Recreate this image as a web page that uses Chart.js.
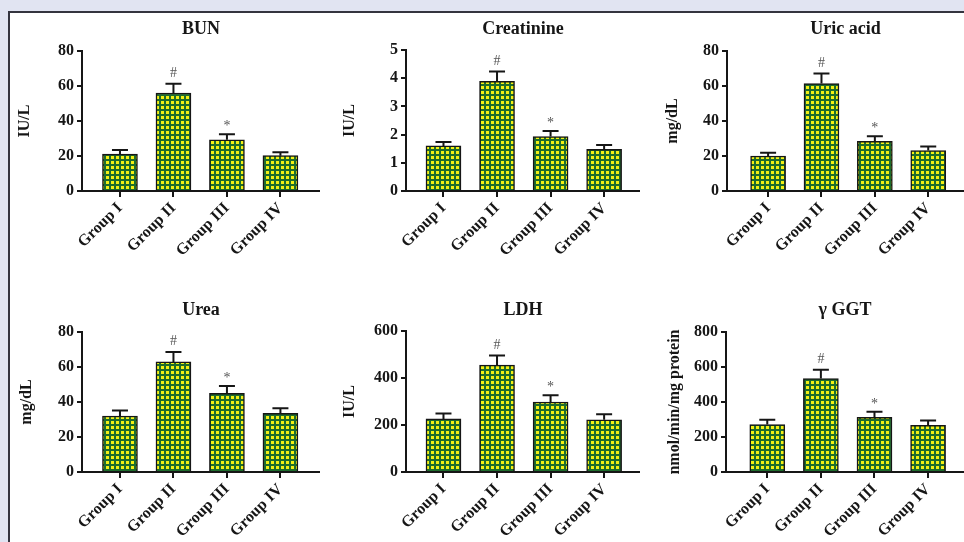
<!DOCTYPE html>
<html><head><meta charset="utf-8">
<script src="https://cdn.jsdelivr.net/npm/chart.js@4.4.0/dist/chart.umd.min.js"></script>
<style>
html,body{margin:0;padding:0;width:964px;height:542px;overflow:hidden;background:#e1e4f2;}
#panel{position:absolute;left:8px;top:11px;width:990px;height:560px;background:#fff;border:2px solid #34343f;box-sizing:border-box;}
canvas{position:absolute;}
</style></head><body>
<div id="panel"></div>
<canvas id="c0"></canvas><canvas id="c1"></canvas><canvas id="c2"></canvas>
<canvas id="c3"></canvas><canvas id="c4"></canvas><canvas id="c5"></canvas>
<script>
// ---- data ----
const categories = ['Group I', 'Group II', 'Group III', 'Group IV'];
const marks = ['', '#', '*', ''];

const bunMean = [21.1, 56.0, 29.3, 20.2];
const bunSE   = [2.3, 5.3, 3.1, 1.9];
const creatMean = [1.60, 3.89, 1.93, 1.48];
const creatSE   = [0.14, 0.35, 0.20, 0.15];
const uricMean = [20.0, 61.4, 28.4, 23.1];
const uricSE   = [1.9, 5.7, 2.9, 2.4];
const ureaMean = [32.0, 62.9, 45.0, 33.5];
const ureaSE   = [3.1, 5.7, 4.1, 2.9];
const ldhMean = [226, 455, 298, 222];
const ldhSE   = [23, 41, 29, 24];
const ggtMean = [271, 534, 313, 267];
const ggtSE   = [28, 51, 32, 28];

const ticks80 = [0, 20, 40, 60, 80];
const ticks5 = [0, 1, 2, 3, 4, 5];
const ticks600 = [0, 200, 400, 600];
const ticks800 = [0, 200, 400, 600, 800];

const titles = ['BUN', 'Creatinine', 'Uric acid', 'Urea', 'LDH', 'γ GGT'];
const units = ['IU/L', 'IU/L', 'mg/dL', 'mg/dL', 'IU/L', 'nmol/min/mg protein'];

// ---- layout ----
const SERIF = "'Liberation Serif','Times New Roman',serif";
const panels = [
  {id:'c0', title:titles[0], unit:units[0], mean:bunMean,   se:bunSE,   yTicks:ticks80,  left:0,   top:0,   w:320, h:280, axisX:82,  areaTop:51,  zeroY:191, xMin:-0.71, xMax:3.74, yTitleX:25, titleY:29},
  {id:'c1', title:titles[1], unit:units[1], mean:creatMean, se:creatSE, yTicks:ticks5,   left:320, top:0,   w:320, h:280, axisX:406, areaTop:50,  zeroY:191, xMin:-0.70, xMax:3.67, yTitleX:30, titleY:29},
  {id:'c2', title:titles[2], unit:units[2], mean:uricMean,  se:uricSE,  yTicks:ticks80,  left:640, top:0,   w:324, h:280, axisX:727, areaTop:51,  zeroY:191, xMin:-0.77, xMax:3.67, yTitleX:33, titleY:29},
  {id:'c3', title:titles[3], unit:units[3], mean:ureaMean,  se:ureaSE,  yTicks:ticks80,  left:0,   top:280, w:320, h:280, axisX:82,  areaTop:332, zeroY:472, xMin:-0.71, xMax:3.74, yTitleX:27, titleY:310},
  {id:'c4', title:titles[4], unit:units[4], mean:ldhMean,   se:ldhSE,   yTicks:ticks600, left:320, top:280, w:320, h:280, axisX:406, areaTop:331, zeroY:472, xMin:-0.70, xMax:3.67, yTitleX:30, titleY:310},
  {id:'c5', title:titles[5], unit:units[5], mean:ggtMean,   se:ggtSE,   yTicks:ticks800, left:640, top:280, w:324, h:280, axisX:726, areaTop:332, zeroY:472, xMin:-0.77, xMax:3.67, yTitleX:35, titleY:310}
];

// checkered fill
const pc = document.createElement('canvas');
pc.width = 5; pc.height = 5;
const pctx = pc.getContext('2d');
pctx.fillStyle = '#1f6d2c'; pctx.fillRect(0, 0, 5, 5);
pctx.fillStyle = '#f4f014'; pctx.fillRect(1, 1, 3, 3);

const INK = '#161616';
const X_H = 80;

function overlay(p) {
  return {
    id: 'overlay_' + p.id,
    afterDatasetsDraw(chart) {
      const {ctx, chartArea, scales} = chart;
      const x = scales.x, y = scales.y;
      ctx.save();
      p.mean.forEach((v, i) => {
        const px = x.getPixelForValue(i);
        const yb = y.getPixelForValue(v);
        const yt = y.getPixelForValue(v + p.se[i]);
        ctx.strokeStyle = INK; ctx.lineWidth = 2;
        ctx.beginPath();
        ctx.moveTo(px, yb); ctx.lineTo(px, yt);
        ctx.moveTo(px - 8, yt); ctx.lineTo(px + 8, yt);
        ctx.stroke();
        if (marks[i]) {
          ctx.fillStyle = '#555';
          ctx.font = '14px ' + SERIF;
          ctx.textAlign = 'center';
          ctx.textBaseline = 'alphabetic';
          ctx.fillText(marks[i], px, marks[i] === '*' ? yt - 4 : yt - 6.5);
        }
      });
      ctx.fillStyle = INK;
      ctx.font = 'bold 18px ' + SERIF;
      ctx.textAlign = 'center';
      ctx.textBaseline = 'middle';
      ctx.fillText(p.title, (chartArea.left + chartArea.right) / 2, p.titleY - p.top);
      ctx.restore();
    }
  };
}

function makeChart(p) {
  const cv = document.getElementById(p.id);
  cv.width = p.w; cv.height = p.h;
  cv.style.left = p.left + 'px'; cv.style.top = p.top + 'px';
  cv.style.width = p.w + 'px'; cv.style.height = p.h + 'px';
  const ctx = cv.getContext('2d');
  const pattern = ctx.createPattern(pc, 'repeat');
  const font = {family: SERIF, size: 16, weight: 'bold'};
  new Chart(ctx, {
    type: 'bar',
    data: {
      datasets: [{
        data: p.mean.map((v, i) => ({x: i, y: v})),
        backgroundColor: pattern,
        borderColor: INK,
        borderWidth: 1.5,
        barThickness: 35
      }]
    },
    options: {
      responsive: false,
      animation: false,
      devicePixelRatio: 1,
      layout: {padding: {left: 0, right: 0, top: p.areaTop - p.top, bottom: p.h - (p.zeroY - p.top) - X_H}},
      plugins: {legend: {display: false}, tooltip: {enabled: false}, title: {display: false}},
      scales: {
        x: {
          type: 'linear', min: p.xMin, max: p.xMax, offset: false,
          afterBuildTicks: a => { a.ticks = categories.map((c, i) => ({value: i})); },
          afterFit: a => { a.height = X_H; },
          ticks: {callback: v => categories[v], autoSkip: false, maxRotation: 45, minRotation: 45, font: font, color: INK, padding: 2},
          grid: {offset: false, drawOnChartArea: false, drawTicks: true, tickLength: 6, color: INK, lineWidth: 2},
          border: {display: true, color: INK, width: 2}
        },
        y: {
          min: 0, max: p.yTicks[p.yTicks.length - 1],
          afterBuildTicks: a => { a.ticks = p.yTicks.map(v => ({value: v})); },
          afterFit: a => { a.width = p.axisX - p.left; },
          ticks: {font: font, color: INK, padding: 3},
          grid: {drawOnChartArea: false, drawTicks: true, tickLength: 5, color: INK, lineWidth: 2},
          border: {display: true, color: INK, width: 2},
          title: {display: true, text: p.unit, font: font, color: INK, padding: {top: p.yTitleX - 9.6, bottom: 0}}
        }
      }
    },
    plugins: [overlay(p)]
  });
}

panels.forEach(makeChart);
</script>
</body></html>
